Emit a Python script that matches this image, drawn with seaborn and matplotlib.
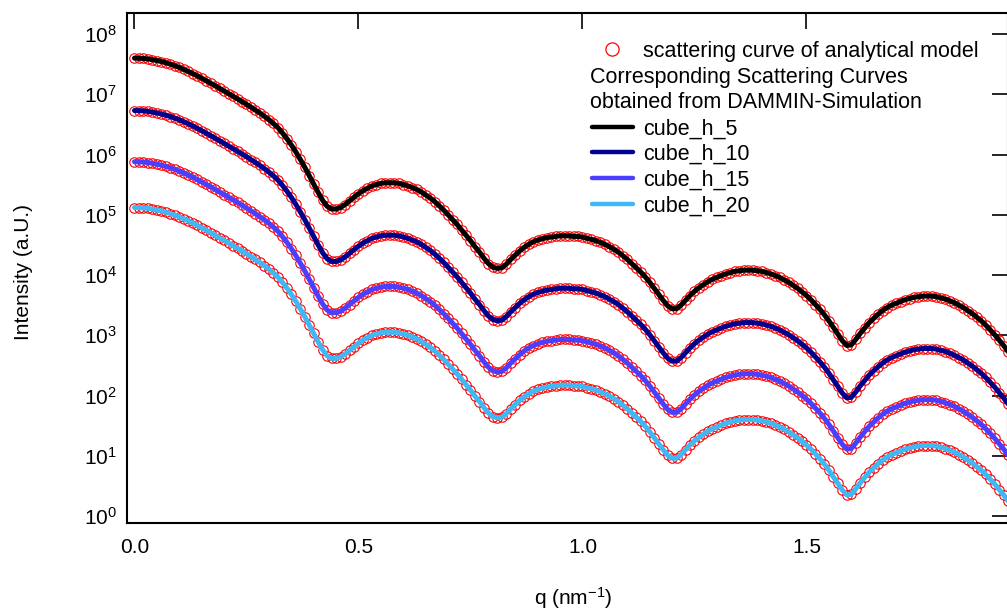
import numpy as np
import pandas as pd
import matplotlib
matplotlib.use("Agg")
import matplotlib.pyplot as plt
import seaborn as sns
from matplotlib.lines import Line2D
from matplotlib.ticker import FixedLocator, NullLocator, LogFormatterSciNotation

# ---------------- data (log10 of intensity) ----------------
q = np.round(np.arange(0, 1.955, 0.01), 2)

log_I_cube_h_5 = [
    7.600, 7.598, 7.594, 7.586, 7.574, 7.560, 7.543, 7.523, 7.500, 7.474,
    7.445, 7.414, 7.380, 7.344, 7.306, 7.266, 7.225, 7.183, 7.141, 7.098,
    7.055, 7.012, 6.968, 6.924, 6.879, 6.833, 6.786, 6.738, 6.688, 6.635,
    6.578, 6.516, 6.448, 6.360, 6.265, 6.160, 6.045, 5.920, 5.790, 5.650,
    5.510, 5.370, 5.240, 5.140, 5.095, 5.095, 5.12, 5.17, 5.23, 5.29,
    5.35, 5.40, 5.44, 5.48, 5.50, 5.52, 5.53, 5.53, 5.53, 5.52,
    5.50, 5.48, 5.45, 5.42, 5.38, 5.33, 5.28, 5.22, 5.15, 5.08,
    5.00, 4.92, 4.84, 4.75, 4.66, 4.57, 4.47, 4.38, 4.28, 4.19,
    4.13, 4.11, 4.12, 4.18, 4.26, 4.33, 4.40, 4.46, 4.51, 4.55,
    4.58, 4.60, 4.62, 4.63, 4.64, 4.65, 4.65, 4.65, 4.64, 4.64,
    4.63, 4.61, 4.59, 4.57, 4.54, 4.51, 4.47, 4.43, 4.38, 4.32,
    4.26, 4.19, 4.12, 4.05, 3.97, 3.88, 3.78, 3.68, 3.58, 3.49,
    3.44, 3.44, 3.50, 3.58, 3.66, 3.73, 3.79, 3.84, 3.89, 3.93,
    3.96, 3.99, 4.02, 4.04, 4.06, 4.07, 4.08, 4.08, 4.08, 4.07,
    4.06, 4.04, 4.02, 3.99, 3.96, 3.92, 3.88, 3.83, 3.78, 3.72,
    3.66, 3.59, 3.51, 3.43, 3.34, 3.24, 3.13, 3.02, 2.91, 2.83,
    2.84, 2.93, 3.03, 3.12, 3.21, 3.28, 3.35, 3.41, 3.46, 3.50,
    3.53, 3.56, 3.59, 3.61, 3.63, 3.64, 3.65, 3.65, 3.65, 3.64,
    3.62, 3.60, 3.57, 3.54, 3.50, 3.46, 3.41, 3.36, 3.30, 3.24,
    3.17, 3.09, 3.01, 2.92, 2.83, 2.73,
]

log_I_cube_h_10 = [
    6.730, 6.728, 6.724, 6.716, 6.704, 6.690, 6.673, 6.653, 6.630, 6.604,
    6.575, 6.544, 6.510, 6.474, 6.436, 6.396, 6.355, 6.313, 6.271, 6.228,
    6.185, 6.142, 6.098, 6.054, 6.009, 5.963, 5.916, 5.868, 5.818, 5.765,
    5.708, 5.646, 5.578, 5.490, 5.395, 5.290, 5.175, 5.050, 4.920, 4.780,
    4.640, 4.500, 4.370, 4.270, 4.225, 4.225, 4.25, 4.30, 4.36, 4.42,
    4.48, 4.53, 4.57, 4.61, 4.63, 4.65, 4.66, 4.66, 4.66, 4.65,
    4.63, 4.61, 4.58, 4.55, 4.51, 4.46, 4.41, 4.35, 4.28, 4.21,
    4.13, 4.05, 3.97, 3.88, 3.79, 3.70, 3.60, 3.51, 3.41, 3.32,
    3.26, 3.24, 3.25, 3.31, 3.39, 3.46, 3.53, 3.59, 3.64, 3.68,
    3.71, 3.73, 3.75, 3.76, 3.77, 3.78, 3.78, 3.78, 3.77, 3.77,
    3.76, 3.74, 3.72, 3.70, 3.67, 3.64, 3.60, 3.56, 3.51, 3.45,
    3.39, 3.32, 3.25, 3.18, 3.10, 3.01, 2.91, 2.81, 2.71, 2.62,
    2.57, 2.57, 2.63, 2.71, 2.79, 2.86, 2.92, 2.97, 3.02, 3.06,
    3.09, 3.12, 3.15, 3.17, 3.19, 3.20, 3.21, 3.21, 3.21, 3.20,
    3.19, 3.17, 3.15, 3.12, 3.09, 3.05, 3.01, 2.96, 2.91, 2.85,
    2.79, 2.72, 2.64, 2.56, 2.47, 2.37, 2.26, 2.15, 2.04, 1.96,
    1.97, 2.06, 2.16, 2.25, 2.34, 2.41, 2.48, 2.54, 2.59, 2.63,
    2.66, 2.69, 2.72, 2.74, 2.76, 2.77, 2.78, 2.78, 2.78, 2.77,
    2.75, 2.73, 2.70, 2.67, 2.63, 2.59, 2.54, 2.49, 2.43, 2.37,
    2.30, 2.22, 2.14, 2.05, 1.96, 1.86,
]

log_I_cube_h_15 = [
    5.880, 5.878, 5.874, 5.866, 5.854, 5.840, 5.823, 5.803, 5.780, 5.754,
    5.725, 5.694, 5.660, 5.624, 5.586, 5.546, 5.505, 5.463, 5.421, 5.378,
    5.335, 5.292, 5.248, 5.204, 5.159, 5.113, 5.066, 5.018, 4.968, 4.915,
    4.858, 4.796, 4.728, 4.640, 4.545, 4.440, 4.325, 4.200, 4.070, 3.930,
    3.790, 3.650, 3.520, 3.420, 3.375, 3.375, 3.40, 3.45, 3.51, 3.57,
    3.63, 3.68, 3.72, 3.76, 3.78, 3.80, 3.81, 3.81, 3.81, 3.80,
    3.78, 3.76, 3.73, 3.70, 3.66, 3.61, 3.56, 3.50, 3.43, 3.36,
    3.28, 3.20, 3.12, 3.03, 2.94, 2.85, 2.75, 2.66, 2.56, 2.47,
    2.41, 2.39, 2.40, 2.46, 2.54, 2.61, 2.68, 2.74, 2.79, 2.83,
    2.86, 2.88, 2.90, 2.91, 2.92, 2.93, 2.93, 2.93, 2.92, 2.92,
    2.91, 2.89, 2.87, 2.85, 2.82, 2.79, 2.75, 2.71, 2.66, 2.60,
    2.54, 2.47, 2.40, 2.33, 2.25, 2.16, 2.06, 1.96, 1.86, 1.77,
    1.72, 1.72, 1.78, 1.86, 1.94, 2.01, 2.07, 2.12, 2.17, 2.21,
    2.24, 2.27, 2.30, 2.32, 2.34, 2.35, 2.36, 2.36, 2.36, 2.35,
    2.34, 2.32, 2.30, 2.27, 2.24, 2.20, 2.16, 2.11, 2.06, 2.00,
    1.94, 1.87, 1.79, 1.71, 1.62, 1.52, 1.41, 1.30, 1.19, 1.11,
    1.12, 1.21, 1.31, 1.40, 1.49, 1.56, 1.63, 1.69, 1.74, 1.78,
    1.81, 1.84, 1.87, 1.89, 1.91, 1.92, 1.93, 1.93, 1.93, 1.92,
    1.90, 1.88, 1.85, 1.82, 1.78, 1.74, 1.69, 1.64, 1.58, 1.52,
    1.45, 1.37, 1.29, 1.20, 1.11, 1.01,
]

log_I_cube_h_20 = [
    5.120, 5.118, 5.114, 5.106, 5.094, 5.080, 5.063, 5.043, 5.020, 4.994,
    4.965, 4.934, 4.900, 4.864, 4.826, 4.786, 4.745, 4.703, 4.661, 4.618,
    4.575, 4.532, 4.488, 4.444, 4.399, 4.353, 4.306, 4.258, 4.208, 4.155,
    4.098, 4.036, 3.968, 3.880, 3.785, 3.680, 3.565, 3.440, 3.310, 3.170,
    3.030, 2.890, 2.760, 2.660, 2.615, 2.615, 2.64, 2.69, 2.75, 2.81,
    2.87, 2.92, 2.96, 3.00, 3.02, 3.04, 3.05, 3.05, 3.05, 3.04,
    3.02, 3.00, 2.97, 2.94, 2.90, 2.85, 2.80, 2.74, 2.67, 2.60,
    2.52, 2.44, 2.36, 2.27, 2.18, 2.09, 1.99, 1.90, 1.80, 1.71,
    1.65, 1.63, 1.64, 1.70, 1.78, 1.85, 1.92, 1.98, 2.03, 2.07,
    2.10, 2.12, 2.14, 2.15, 2.16, 2.17, 2.17, 2.17, 2.16, 2.16,
    2.15, 2.13, 2.11, 2.09, 2.06, 2.03, 1.99, 1.95, 1.90, 1.84,
    1.78, 1.71, 1.64, 1.57, 1.49, 1.40, 1.30, 1.20, 1.10, 1.01,
    0.96, 0.96, 1.02, 1.10, 1.18, 1.25, 1.31, 1.36, 1.41, 1.45,
    1.48, 1.51, 1.54, 1.56, 1.58, 1.59, 1.60, 1.60, 1.60, 1.59,
    1.58, 1.56, 1.54, 1.51, 1.48, 1.44, 1.40, 1.35, 1.30, 1.24,
    1.18, 1.11, 1.03, 0.95, 0.86, 0.76, 0.65, 0.54, 0.43, 0.35,
    0.36, 0.45, 0.55, 0.64, 0.73, 0.80, 0.87, 0.93, 0.98, 1.02,
    1.05, 1.08, 1.11, 1.13, 1.15, 1.16, 1.17, 1.17, 1.17, 1.16,
    1.14, 1.12, 1.09, 1.06, 1.02, 0.98, 0.93, 0.88, 0.82, 0.76,
    0.69, 0.61, 0.53, 0.44, 0.35, 0.25,
]

curve_names = ["cube_h_5", "cube_h_10", "cube_h_15", "cube_h_20"]
curve_logs = [log_I_cube_h_5, log_I_cube_h_10, log_I_cube_h_15, log_I_cube_h_20]
line_colors = ["#000000", "#00008C", "#4A3FFF", "#40B8F5"]

x_ticks = [0.0, 0.5, 1.0, 1.5]
x_tick_labels = ["0.0", "0.5", "1.0", "1.5"]
y_tick_exponents = [0, 1, 2, 3, 4, 5, 6, 7, 8]

model_label = "scattering curve of analytical model"
header_lines = ["Corresponding Scattering Curves", "obtained from DAMMIN-Simulation"]

# ---------------- dataframe ----------------
frames = []
for name, vals in zip(curve_names, curve_logs):
    frames.append(pd.DataFrame({"q": q, "I": 10.0 ** np.asarray(vals), "curve": name}))
df = pd.concat(frames, ignore_index=True)

# ---------------- style ----------------
sns.set_theme(style="white")
plt.rcParams["font.family"] = ["Liberation Sans", "DejaVu Sans"]
plt.rcParams["mathtext.fontset"] = "custom"
plt.rcParams["mathtext.rm"] = "Liberation Sans"
plt.rcParams["mathtext.it"] = "Liberation Sans:italic"
plt.rcParams["mathtext.default"] = "regular"
plt.rcParams["text.color"] = "black"
plt.rcParams["axes.labelcolor"] = "black"
plt.rcParams["xtick.color"] = "black"
plt.rcParams["ytick.color"] = "black"

FS = 15
FS_LEG = 15.5

W, H = 1007, 611
fig = plt.figure(figsize=(W / 100, H / 100), dpi=100)
ax = fig.add_axes([127 / W, 88 / H, 881 / W, 510 / H])

# analytical model: red open circles (below the lines)
sns.lineplot(data=df, x="q", y="I", units="curve", estimator=None, sort=False,
             color="red", marker="o", linestyle="none", markersize=6.8,
             markerfacecolor="none", markeredgecolor="red", markeredgewidth=0.8,
             legend=False, ax=ax, zorder=2)

# DAMMIN curves
sns.lineplot(data=df, x="q", y="I", hue="curve", hue_order=curve_names,
             palette=dict(zip(curve_names, line_colors)), estimator=None, sort=False,
             linewidth=3.6, legend=False, ax=ax, zorder=3)

ax.set_yscale("log")
ax.set_xlim(-0.0167, 1.9498)
ax.set_ylim(10 ** -0.116, 10 ** 8.349)

ax.xaxis.set_major_locator(FixedLocator(x_ticks))
ax.set_xticklabels(x_tick_labels)
ax.yaxis.set_major_locator(FixedLocator([10.0 ** e for e in y_tick_exponents]))
ax.yaxis.set_major_formatter(LogFormatterSciNotation())
ax.yaxis.set_minor_locator(NullLocator())
ax.xaxis.set_minor_locator(NullLocator())

ax.tick_params(axis="both", which="major", direction="in", length=11.5, width=1.2,
               top=True, right=True, labeltop=False, labelright=False,
               labelsize=FS, colors="black")
ax.tick_params(axis="x", pad=11)
ax.tick_params(axis="y", pad=7)

for sp in ax.spines.values():
    sp.set_visible(True)
    sp.set_color("black")
    sp.set_linewidth(1.5)

ax.set_xlabel("q (nm$^{-1}$)", fontsize=FS, color="black")
ax.xaxis.set_label_coords(0.506, -0.147)
ax.xaxis.label.set_verticalalignment("center")
ax.set_ylabel("Intensity (a.U.)", fontsize=FS, color="black")
ax.yaxis.set_label_coords(-0.118, 0.492)
ax.yaxis.label.set_verticalalignment("center")

# ---------------- legend ----------------
handles = [Line2D([], [], marker="o", linestyle="none", markersize=9.5,
                  markerfacecolor="none", markeredgecolor="red", markeredgewidth=0.9)]
handles += [Line2D([], [], linestyle="none") for _ in header_lines]
handles += [Line2D([], [], color=c, linewidth=3.2) for c in line_colors]
labels = [model_label] + header_lines + curve_names

leg = ax.legend(handles, labels, loc="upper left", frameon=False, fontsize=FS_LEG,
                bbox_to_anchor=(592 / W, 1 - 41 / H), bbox_transform=fig.transFigure,
                borderpad=0, borderaxespad=0, handlelength=1.9, handletextpad=0.47,
                labelspacing=0.22, labelcolor="black")

fig.canvas.draw()
texts = leg.get_texts()
for i in (1, 2):
    bb = texts[i].get_window_extent()
    texts[i].set_visible(False)
    fig.text(590 / W, bb.y0 / H, header_lines[i - 1], fontsize=FS_LEG, color="black",
             ha="left", va="bottom")

fig.savefig("out.png", dpi=100)
